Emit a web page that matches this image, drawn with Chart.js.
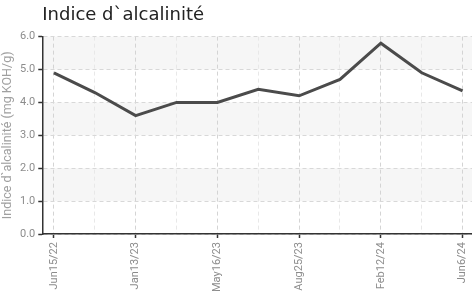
<!DOCTYPE html>
<html>
<head>
<meta charset="utf-8">
<script src="https://cdn.jsdelivr.net/npm/chart.js@4/dist/chart.umd.min.js"></script>
<style>
    html, body { margin: 0; padding: 0; background: #fff; }
    #wrap { width: 472px; height: 296px; }
</style>
</head>
<body>
<div id="wrap"><canvas id="chart"></canvas></div>
<script>
// categories (only every other one is labelled on the axis)
const dateLabels = ['Jun15/22', '', 'Jan13/23', '', 'May16/23', '', 'Aug25/23', '', 'Feb12/24', '', 'Jun6/24'];
const alkalinity = [4.9, 4.3, 3.6, 4.0, 4.0, 4.4, 4.2, 4.7, 5.8, 4.9, 4.35];
const yTicks = [0, 1, 2, 3, 4, 5, 6];
const shadedBands = [[1, 2], [3, 4], [5, 6]];

const tickFont = { family: 'Roboto', size: 11 };

// draws the light grey stripes behind the grid
const bandPlugin = {
    id: 'bands',
    beforeDraw(chart) {
        const ctx = chart.ctx;
        const area = chart.chartArea;
        const y = chart.scales.y;
        ctx.save();
        ctx.fillStyle = '#f6f6f6';
        shadedBands.forEach(b => {
            const top = y.getPixelForValue(b[1]);
            const bottom = y.getPixelForValue(b[0]);
            ctx.fillRect(area.left, top, area.right - area.left, bottom - top);
        });
        ctx.restore();
    }
};

const points = alkalinity.map((v, i) => ({ x: i, y: v }));

new Chart(document.getElementById('chart'), {
    type: 'line',
    data: {
        datasets: [{
            data: points,
            borderColor: '#4b4b4b',
            borderWidth: 3,
            pointRadius: 0,
            tension: 0
        }]
    },
    options: {
        responsive: true,
        maintainAspectRatio: false,
        animation: false,
        layout: { padding: { left: 0, right: 0, top: 0, bottom: 0 } },
        plugins: {
            legend: { display: false },
            tooltip: { enabled: false },
            title: {
                display: true,
                text: 'Indice d`alcalinité',
                align: 'start',
                fullSize: false,
                color: '#222',
                font: { family: 'DejaVu Sans', size: 18, weight: 'normal' },
                padding: { top: 5, bottom: 10 }
            }
        },
        scales: {
            x: {
                type: 'linear',
                min: -0.285,
                max: 10.23,
                afterBuildTicks: scale => {
                    scale.ticks = dateLabels.map((_, i) => ({ value: i }));
                },
                afterFit: scale => {
                    // no extra room for the last rotated label
                    scale.paddingRight = 0;
                    scale.paddingLeft = 0;
                },
                ticks: {
                    font: tickFont,
                    color: '#8c8c8c',
                    maxRotation: 90,
                    minRotation: 90,
                    autoSkip: false,
                    padding: 4,
                    callback: (v, i) => dateLabels[i]
                },
                grid: {
                    color: ctx => (ctx.index % 2 === 0 ? '#d4d4d4' : '#e8e8e8'),
                    tickColor: ctx => (ctx.index % 2 === 0 ? '#333' : 'rgba(0,0,0,0)'),
                    tickLength: 4,
                    tickWidth: 1.5
                },
                border: { color: '#333', width: 1.5, dash: [4, 3] }
            },
            y: {
                min: 0,
                max: 6,
                afterBuildTicks: scale => {
                    scale.ticks = yTicks.map(v => ({ value: v }));
                },
                ticks: {
                    font: tickFont,
                    color: '#8c8c8c',
                    padding: 3,
                    callback: v => v.toFixed(1)
                },
                grid: {
                    color: '#d8d8d8',
                    tickColor: '#333',
                    tickLength: 4,
                    tickWidth: 1.5
                },
                border: { color: '#333', width: 1.5, dash: [4, 3] },
                title: {
                    display: true,
                    text: 'Indice d`alcalinité (mg KOH/g)',
                    color: '#a0a0a0',
                    font: { family: 'Roboto', size: 12.5 },
                    padding: { top: 0, bottom: 2 }
                }
            }
        }
    },
    plugins: [bandPlugin]
});
</script>
</body>
</html>
